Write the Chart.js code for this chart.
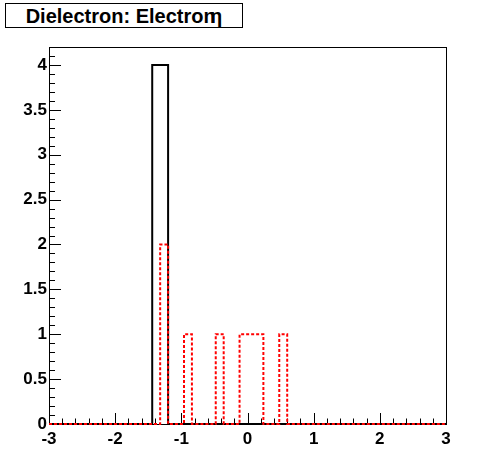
<!DOCTYPE html>
<html>
<head>
<meta charset="utf-8">
<script src="https://cdn.jsdelivr.net/npm/chart.js@4.4.1/dist/chart.umd.min.js"></script>
<style>
  body { margin: 0; background: #fff; }
  #wrap { position: relative; width: 496px; height: 472px; }
  #titre {
    position: absolute; left: 5px; top: 3px; width: 236px; height: 23px;
    border: 1px solid #000; background: #fff;
    font: bold 20px "Liberation Sans", Arial, sans-serif;
    line-height: 24px; text-align: center; color: #000;
  }
  #titre span { margin-left: -0.28em; }
</style>
</head>
<body>
<div id="wrap">
  <canvas id="graf" width="496" height="472"></canvas>
  <div id="titre">Dielectron: Electron<span>η</span></div>
</div>
<script>
// histogram binning (eta)
const nBins = 50;
const xLow = -3;
const xHigh = 3;

// bin contents
const solidCounts = [
  0, 0, 0, 0, 0, 0, 0, 0, 0, 0,
  0, 0, 0, 4, 4, 0, 0, 0, 0, 0,
  0, 0, 0, 0, 0, 0, 0, 0, 0, 0,
  0, 0, 0, 0, 0, 0, 0, 0, 0, 0,
  0, 0, 0, 0, 0, 0, 0, 0, 0, 0
];
const dashedCounts = [
  0, 0, 0, 0, 0, 0, 0, 0, 0, 0,
  0, 0, 0, 0, 2, 0, 0, 1, 0, 0,
  0, 1, 0, 0, 1, 1, 1, 0, 0, 1,
  0, 0, 0, 0, 0, 0, 0, 0, 0, 0,
  0, 0, 0, 0, 0, 0, 0, 0, 0, 0
];

const xTicks = [-3, -2, -1, 0, 1, 2, 3];
const yTicks = [0, 0.5, 1, 1.5, 2, 2.5, 3, 3.5, 4];
const yMax = 4.2;

// histogram outline as step points
function pasHisto(counts) {
  const w = (xHigh - xLow) / nBins;
  const pts = [];
  counts.forEach((v, i) => {
    pts.push({ x: xLow + i * w, y: v });
    pts.push({ x: xLow + (i + 1) * w, y: v });
  });
  return pts;
}

const police = { family: '"Liberation Sans", Arial, sans-serif', size: 17, weight: 'bold' };

// ROOT style frame + ticks drawn inside the frame
const cadre = {
  id: 'cadre',
  beforeDatasetsDraw(chart) {
    const ctx = chart.ctx;
    const a = chart.chartArea;
    const sx = chart.scales.x, sy = chart.scales.y;
    ctx.save();
    ctx.strokeStyle = '#000';
    ctx.lineWidth = 1;
    ctx.strokeRect(Math.round(a.left) + 0.5, Math.round(a.top) + 0.5,
      Math.round(a.right - a.left), Math.round(a.bottom - a.top));
    ctx.beginPath();
    // x ticks
    for (let k = 0; k <= 30; k++) {
      const v = xLow + k * 0.2;
      const px = Math.round(sx.getPixelForValue(v)) + 0.5;
      const len = (k % 5 === 0) ? 11 : 5.5;
      ctx.moveTo(px, a.bottom);
      ctx.lineTo(px, a.bottom - len);
    }
    // y ticks
    for (let k = 0; k <= 42; k++) {
      const v = k * 0.1;
      const py = Math.round(sy.getPixelForValue(v)) + 0.5;
      const len = (k % 5 === 0) ? 12 : 6;
      ctx.moveTo(a.left, py);
      ctx.lineTo(a.left + len, py);
    }
    ctx.stroke();
    ctx.restore();
  }
};

new Chart(document.getElementById('graf'), {
  type: 'line',
  data: {
    datasets: [
      {
        label: 'dashed',
        data: pasHisto(dashedCounts),
        borderColor: '#ff0000',
        borderWidth: 2,
        borderDash: [3, 2],
        pointRadius: 0,
        tension: 0,
        fill: false,
        clip: 6,
        order: 0
      },
      {
        label: 'solid',
        data: pasHisto(solidCounts),
        borderColor: '#000000',
        borderWidth: 2,
        pointRadius: 0,
        tension: 0,
        fill: false,
        clip: 6,
        order: 1
      }
    ]
  },
  options: {
    responsive: false,
    animation: false,
    events: [],
    layout: { padding: { top: 47, right: 50, left: 0, bottom: 0 } },
    plugins: { legend: { display: false }, tooltip: { enabled: false } },
    scales: {
      x: {
        type: 'linear',
        min: xLow,
        max: xHigh,
        afterBuildTicks: s => { s.ticks = xTicks.map(v => ({ value: v })); },
        afterFit: s => { s.height = 48; },
        grid: { display: false, drawTicks: false },
        border: { display: false },
        ticks: {
          color: '#000',
          font: police,
          padding: 5,
          maxRotation: 0,
          autoSkip: false,
          callback: v => String(v)
        }
      },
      y: {
        type: 'linear',
        min: 0,
        max: yMax,
        afterBuildTicks: s => { s.ticks = yTicks.map(v => ({ value: v })); },
        afterFit: s => { s.width = 49; },
        grid: { display: false, drawTicks: false },
        border: { display: false },
        ticks: {
          color: '#000',
          font: police,
          padding: 2,
          autoSkip: false,
          callback: v => String(v)
        }
      }
    }
  },
  plugins: [cadre]
});
</script>
</body>
</html>
